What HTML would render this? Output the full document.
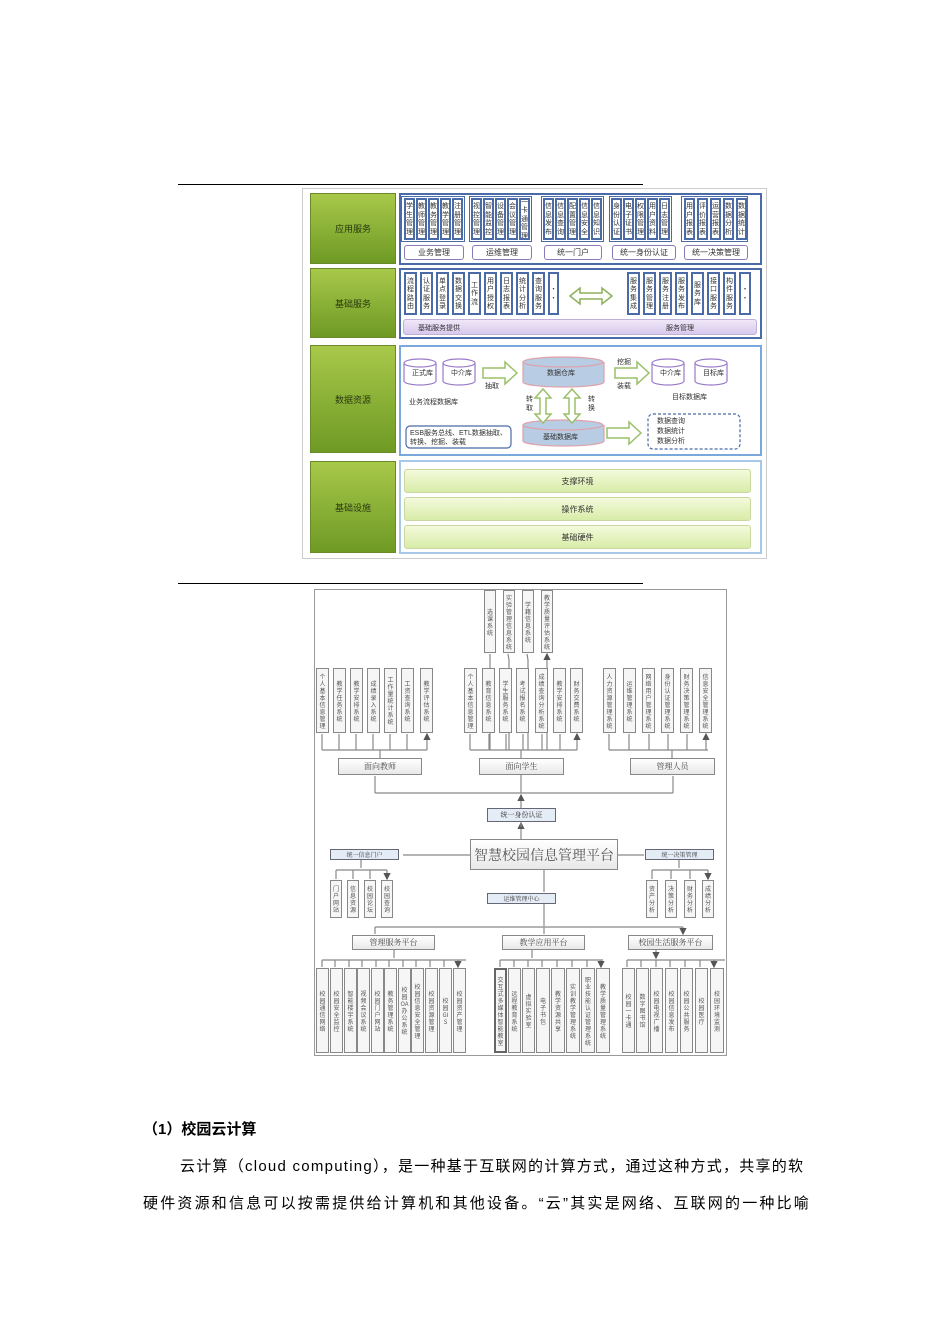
<!DOCTYPE html>
<html><head><meta charset="utf-8"><style>
body{margin:0;background:#fff;font-family:"Liberation Sans","Noto Sans CJK SC",sans-serif;}
#p{position:relative;width:950px;height:1344px;overflow:hidden;background:#fff}
.a{position:absolute;box-sizing:border-box}
.v{position:absolute;box-sizing:border-box;font-family:"Noto Sans CJK SC",sans-serif;font-size:7px;line-height:8px;word-break:break-all;color:#333;display:flex;align-items:center;justify-content:center;overflow:hidden;text-align:center;padding:0 1px}
.vb{border:2px solid #4a6aa8;background:#fff;font-size:7px;line-height:8.5px}
.vg{border:1px solid #888;background:#f6f6f6;font-size:6px;line-height:7px;color:#555}
.green{background:linear-gradient(#a8c84a,#6e9a24);border:1px solid #6a8a2a;color:#2a3a10;font-size:9px;display:flex;align-items:center;justify-content:center}
.lb{border:1px solid #8a7ab8;background:#fff;border-radius:3px;font-size:8px;display:flex;align-items:center;justify-content:center;color:#333}
.gb{border:1px solid #c8d8a0;background:linear-gradient(#f4fadc,#d8eca8);border-radius:3px;font-size:8px;display:flex;align-items:center;justify-content:center;color:#333}
.hb{border:1px solid #888;background:linear-gradient(#fff,#e8e8e8);font-size:8px;display:flex;align-items:center;justify-content:center;color:#444;font-family:"Noto Serif CJK SC",serif}
.bb{border:1px solid #667;background:#e4ecf6;font-size:7px;display:flex;align-items:center;justify-content:center;color:#333;font-family:"Noto Serif CJK SC",serif}
.t{position:absolute;font-size:15px;color:#000;white-space:nowrap}
</style></head><body><div id="p">
<div class="a" style="left:178px;top:184px;width:465px;height:1px;background:#000"></div>
<div class="a" style="left:178px;top:583px;width:465px;height:1px;background:#000"></div>
<div class="a" style="left:302px;top:188px;width:465px;height:371px;border:1px solid #ccc"></div>
<div class="a green" style="left:310px;top:193px;width:86px;height:71px">应用服务</div>
<div class="a green" style="left:310px;top:268px;width:86px;height:70px">基础服务</div>
<div class="a green" style="left:310px;top:345px;width:86px;height:108px">数据资源</div>
<div class="a green" style="left:310px;top:461px;width:86px;height:92px">基础设施</div>
<div class="a" style="left:399px;top:193px;width:363px;height:72px;border:2px solid #4a6aa8"></div>
<div class="a" style="left:399px;top:268px;width:363px;height:71px;border:2px solid #4a6aa8"></div>
<div class="a" style="left:399px;top:345px;width:363px;height:111px;border:2px solid #7aa8dc"></div>
<div class="a" style="left:399px;top:460px;width:363px;height:94px;border:2px solid #a8c8e8"></div>
<div class="a" style="left:401px;top:196px;width:64px;height:46px;border:1px solid #4a6aa8"></div>
<div class="a" style="left:469px;top:196px;width:63px;height:46px;border:1px solid #4a6aa8"></div>
<div class="a" style="left:541px;top:196px;width:63px;height:46px;border:1px solid #4a6aa8"></div>
<div class="a" style="left:609px;top:196px;width:63px;height:46px;border:1px solid #4a6aa8"></div>
<div class="a" style="left:681px;top:196px;width:67px;height:46px;border:1px solid #4a6aa8"></div>
<div class="v vb" style="left:404px;top:198px;width:11px;height:42px">学生管理</div>
<div class="v vb" style="left:416px;top:198px;width:11px;height:42px">教师管理</div>
<div class="v vb" style="left:428px;top:198px;width:11px;height:42px">教务管理</div>
<div class="v vb" style="left:440px;top:198px;width:11px;height:42px">教学管理</div>
<div class="v vb" style="left:452px;top:198px;width:11px;height:42px">注册管理</div>
<div class="v vb" style="left:471px;top:198px;width:11px;height:42px">视控管理</div>
<div class="v vb" style="left:483px;top:198px;width:11px;height:42px">智能监控</div>
<div class="v vb" style="left:495px;top:198px;width:11px;height:42px">设备管理</div>
<div class="v vb" style="left:507px;top:198px;width:11px;height:42px">会议管理</div>
<div class="v vb" style="left:519px;top:198px;width:11px;height:42px">一卡通管理</div>
<div class="v vb" style="left:543px;top:198px;width:11px;height:42px">信息发布</div>
<div class="v vb" style="left:555px;top:198px;width:11px;height:42px">信息查询</div>
<div class="v vb" style="left:567px;top:198px;width:11px;height:42px">配置管理</div>
<div class="v vb" style="left:579px;top:198px;width:11px;height:42px">信息安全</div>
<div class="v vb" style="left:591px;top:198px;width:11px;height:42px">信息知识</div>
<div class="v vb" style="left:611px;top:198px;width:11px;height:42px">身份认证</div>
<div class="v vb" style="left:623px;top:198px;width:11px;height:42px">电子证书</div>
<div class="v vb" style="left:635px;top:198px;width:11px;height:42px">权限管理</div>
<div class="v vb" style="left:647px;top:198px;width:11px;height:42px">用户资料</div>
<div class="v vb" style="left:659px;top:198px;width:11px;height:42px">日志管理</div>
<div class="v vb" style="left:684px;top:198px;width:11px;height:42px">用户报表</div>
<div class="v vb" style="left:697px;top:198px;width:11px;height:42px">评价报表</div>
<div class="v vb" style="left:710px;top:198px;width:11px;height:42px">运营报表</div>
<div class="v vb" style="left:723px;top:198px;width:11px;height:42px">数据分析</div>
<div class="v vb" style="left:736px;top:198px;width:11px;height:42px">数据统计</div>
<div class="a lb" style="left:404px;top:245px;width:60px;height:15px">业务管理</div>
<div class="a lb" style="left:472px;top:245px;width:60px;height:15px">运维管理</div>
<div class="a lb" style="left:544px;top:245px;width:58px;height:15px">统一门户</div>
<div class="a lb" style="left:612px;top:245px;width:64px;height:15px">统一身份认证</div>
<div class="a lb" style="left:684px;top:245px;width:64px;height:15px">统一决策管理</div>
<div class="v vb" style="left:404px;top:272px;width:13px;height:43px">流程路由</div>
<div class="v vb" style="left:420px;top:272px;width:13px;height:43px">认证服务</div>
<div class="v vb" style="left:436px;top:272px;width:13px;height:43px">单点登录</div>
<div class="v vb" style="left:452px;top:272px;width:13px;height:43px">数据交换</div>
<div class="v vb" style="left:468px;top:272px;width:13px;height:43px">工作流</div>
<div class="v vb" style="left:484px;top:272px;width:13px;height:43px">用户授权</div>
<div class="v vb" style="left:500px;top:272px;width:13px;height:43px">日志报表</div>
<div class="v vb" style="left:516px;top:272px;width:13px;height:43px">统计分析</div>
<div class="v vb" style="left:532px;top:272px;width:13px;height:43px">查询服务</div>
<div class="v vb" style="left:548px;top:272px;width:11px;height:43px">··</div>
<div class="v vb" style="left:627px;top:272px;width:13px;height:43px">服务集成</div>
<div class="v vb" style="left:643px;top:272px;width:13px;height:43px">服务管理</div>
<div class="v vb" style="left:659px;top:272px;width:13px;height:43px">服务注册</div>
<div class="v vb" style="left:675px;top:272px;width:13px;height:43px">服务发布</div>
<div class="v vb" style="left:691px;top:272px;width:13px;height:43px">服务库</div>
<div class="v vb" style="left:707px;top:272px;width:13px;height:43px">接口服务</div>
<div class="v vb" style="left:723px;top:272px;width:13px;height:43px">构件服务</div>
<div class="v vb" style="left:739px;top:272px;width:12px;height:43px">··</div>
<div class="a" style="left:403px;top:319px;width:354px;height:16px;background:linear-gradient(#f0e8f8,#d8c8ec);border:1px solid #c0b0dc;border-radius:3px;font-size:7px;color:#333"><span style="position:absolute;left:14px;top:3px">基础服务提供</span><span style="position:absolute;left:262px;top:3px">服务管理</span></div>
<svg class="a" style="left:0;top:0" width="950" height="1344">
<path d="M570 296 l10 -8 v5 h22 v-5 l10 8 l-10 8 v-5 h-22 v5z" fill="#fff" stroke="#8ab05a" stroke-width="1.5"/>
<g fill="#fff" stroke="#9a7ac8" stroke-width="1.2">
<path d="M404 363 v18 a16 4 0 0 0 32 0 v-18"/><ellipse cx="420" cy="363" rx="16" ry="4"/>
<path d="M443 363 v18 a16 4 0 0 0 32 0 v-18"/><ellipse cx="459" cy="363" rx="16" ry="4"/>
<path d="M652 363 v18 a16 4 0 0 0 32 0 v-18"/><ellipse cx="668" cy="363" rx="16" ry="4"/>
<path d="M695 363 v18 a16 4 0 0 0 32 0 v-18"/><ellipse cx="711" cy="363" rx="16" ry="4"/>
</g>
<g fill="#b8cce4" stroke="#e0a0a8" stroke-width="1.2">
<path d="M523 362 v20 a40 5 0 0 0 81 0 v-20"/><ellipse cx="563" cy="362" rx="40" ry="5"/>
<path d="M523 425 v16 a40 5 0 0 0 81 0 v-16"/><ellipse cx="563" cy="425" rx="40" ry="5"/>
</g>
<g fill="#fff" stroke="#9ac06a" stroke-width="1.5">
<path d="M483 368 h22 v-6 l12 11 l-12 11 v-6 h-22z"/>
<path d="M615 368 h22 v-6 l12 11 l-12 11 v-6 h-22z"/>
<path d="M607 428 h22 v-6 l12 11 l-12 11 v-6 h-22z"/>
<path d="M543 389 l-8 9 h5 v16 h-5 l8 9 l8 -9 h-5 v-16 h5z"/>
<path d="M572 389 l-8 9 h5 v16 h-5 l8 9 l8 -9 h-5 v-16 h5z"/>
</g>
<rect x="406" y="426" width="105" height="22" rx="4" fill="#fff" stroke="#4a6aa8" stroke-width="1.2"/>
<rect x="648" y="414" width="92" height="35" rx="5" fill="none" stroke="#4a6aa8" stroke-width="1.2" stroke-dasharray="3,2"/>
<g font-size="7" fill="#333" font-family="Liberation Sans,Noto Sans CJK SC,sans-serif">
<text x="412" y="375">正式库</text><text x="451" y="375">中介库</text><text x="660" y="375">中介库</text><text x="703" y="375">目标库</text>
<text x="547" y="375">数据仓库</text><text x="543" y="439">基础数据库</text>
<text x="485" y="388">抽取</text><text x="617" y="364">挖掘</text><text x="617" y="388">装载</text>
<text x="409" y="404">业务流程数据库</text><text x="672" y="399">目标数据库</text>
<text x="526" y="401">转</text><text x="526" y="410">取</text><text x="588" y="401">转</text><text x="588" y="410">换</text>
<text x="410" y="435">ESB服务总线、ETL数据抽取、</text><text x="410" y="444">转换、挖掘、装载</text>
<text x="657" y="423">数据查询</text><text x="657" y="433">数据统计</text><text x="657" y="443">数据分析</text>
</g>
</svg>
<div class="a gb" style="left:404px;top:469px;width:347px;height:24px">支撑环境</div>
<div class="a gb" style="left:404px;top:497px;width:347px;height:24px">操作系统</div>
<div class="a gb" style="left:404px;top:525px;width:347px;height:24px">基础硬件</div>

<div class="a" style="left:314px;top:589px;width:413px;height:467px;border:1px solid #999"></div>
<svg class="a" style="left:0;top:0" width="950" height="1344">
<defs><marker id="m" markerWidth="6" markerHeight="6" refX="5" refY="3" orient="auto"><path d="M0 0L6 3L0 6z" fill="#555"/></marker></defs>
<g stroke="#888" stroke-width="1.2" fill="none">
<path d="M322 750 H427 M470 750 H577 M609 750 H708"/>
<g marker-end="url(#m)">
<path d="M322 750V734 M339 750V734 M356 750V734 M373 750V734 M390 750V734 M407 750V734 M427 750V734"/>
<path d="M470 750V734 M489 750V734 M506 750V734 M523 750V734 M542 750V734 M560 750V734 M577 750V734"/>
<path d="M609 750V734 M629 750V734 M649 750V734 M668 750V734 M687 750V734 M706 750V734"/>
<path d="M490 750V654 M509 750V660 L508 654 M528 750V660 L527 654 M547 750V654"/>
<path d="M375 793V776 M673 793V776 M521 808V795"/>
<path d="M470 855H403 M618 855H644 M544 870V892 M544 904V926 M521 839V823"/>
<path d="M375 927V934 M544 927V934 M683 927V934"/>
<path d="M361 859V868 M336 870V879 M353 870V879 M370 870V879 M387 870V879"/>
<path d="M679 859V868 M652 870V879 M671 870V879 M690 870V879 M708 870V879"/>
<path d="M394 950V958 M532 950V958 M656 950V958"/>
<path d="M322 960V967 M335 960V967 M349 960V967 M362 960V967 M376 960V967 M389 960V967 M403 960V967 M416 960V967 M430 960V967 M444 960V967 M458 960V967"/>
<path d="M500 960V967 M514 960V967 M528 960V967 M542 960V967 M557 960V967 M572 960V967 M587 960V967 M601 960V967"/>
<path d="M627 960V967 M641 960V967 M656 960V967 M670 960V967 M685 960V967 M700 960V967 M714 960V967"/>
</g>
<path d="M380 750V758 M521 750V758 M672 750V758"/>
<path d="M375 793 H673 M521 775V793 M521 822V827"/>
<path d="M375 927H683 M336 870H387 M652 870H708"/>
<path d="M322 960H466 M500 960H603 M627 960H725"/>
</g>
</svg>
<div class="v vg" style="left:484px;top:590px;width:12px;height:63px">选课系统</div>
<div class="v vg" style="left:503px;top:590px;width:12px;height:63px">实验管理信息系统</div>
<div class="v vg" style="left:522px;top:590px;width:12px;height:63px">学籍信息系统</div>
<div class="v vg" style="left:541px;top:590px;width:12px;height:63px">教学质量评估系统</div>
<div class="v vg" style="left:316px;top:668px;width:13px;height:65px">个人基本信息管理</div>
<div class="v vg" style="left:333px;top:668px;width:13px;height:65px">教学任务系统</div>
<div class="v vg" style="left:350px;top:668px;width:13px;height:65px">教学安排系统</div>
<div class="v vg" style="left:367px;top:668px;width:13px;height:65px">成绩录入系统</div>
<div class="v vg" style="left:384px;top:668px;width:13px;height:65px">工作量统计系统</div>
<div class="v vg" style="left:401px;top:668px;width:13px;height:65px">工资查询系统</div>
<div class="v vg" style="left:420px;top:668px;width:13px;height:65px">教学评估系统</div>
<div class="v vg" style="left:464px;top:668px;width:13px;height:65px">个人基本信息管理</div>
<div class="v vg" style="left:482px;top:668px;width:13px;height:65px">教育信息系统</div>
<div class="v vg" style="left:499px;top:668px;width:13px;height:65px">学生服务系统</div>
<div class="v vg" style="left:516px;top:668px;width:13px;height:65px">考试报名系统</div>
<div class="v vg" style="left:535px;top:668px;width:13px;height:65px">成绩查询分析系统</div>
<div class="v vg" style="left:553px;top:668px;width:13px;height:65px">教学安排系统</div>
<div class="v vg" style="left:570px;top:668px;width:13px;height:65px">财务交费系统</div>
<div class="v vg" style="left:603px;top:668px;width:13px;height:65px">人力资源管理系统</div>
<div class="v vg" style="left:623px;top:668px;width:13px;height:65px">运维管理系统</div>
<div class="v vg" style="left:642px;top:668px;width:13px;height:65px">网络用户管理系统</div>
<div class="v vg" style="left:661px;top:668px;width:13px;height:65px">身份认证管理系统</div>
<div class="v vg" style="left:680px;top:668px;width:13px;height:65px">财务决策管理系统</div>
<div class="v vg" style="left:699px;top:668px;width:13px;height:65px">信息安全管理系统</div>
<div class="a hb" style="left:338px;top:758px;width:84px;height:17px">面向教师</div>
<div class="a hb" style="left:479px;top:758px;width:85px;height:17px">面向学生</div>
<div class="a hb" style="left:630px;top:758px;width:85px;height:17px">管理人员</div>
<div class="a bb" style="left:487px;top:808px;width:69px;height:14px">统一身份认证</div>
<div class="a hb" style="left:470px;top:839px;width:148px;height:31px;font-size:14px;color:#555">智慧校园信息管理平台</div>
<div class="a bb" style="left:330px;top:849px;width:69px;height:11px;font-size:6px">统一信息门户</div>
<div class="a bb" style="left:645px;top:849px;width:69px;height:11px;font-size:6px">统一决策管理</div>
<div class="v vg" style="left:330px;top:880px;width:12px;height:38px">门户网站</div>
<div class="v vg" style="left:347px;top:880px;width:12px;height:38px">信息资源</div>
<div class="v vg" style="left:364px;top:880px;width:12px;height:38px">校园论坛</div>
<div class="v vg" style="left:381px;top:880px;width:12px;height:38px">校园查询</div>
<div class="v vg" style="left:646px;top:880px;width:12px;height:38px">资产分析</div>
<div class="v vg" style="left:665px;top:880px;width:12px;height:38px">决策分析</div>
<div class="v vg" style="left:684px;top:880px;width:12px;height:38px">财务分析</div>
<div class="v vg" style="left:702px;top:880px;width:12px;height:38px">成绩分析</div>
<div class="a bb" style="left:487px;top:893px;width:69px;height:11px;font-size:6px">运维管理中心</div>
<div class="a hb" style="left:352px;top:935px;width:83px;height:15px">管理服务平台</div>
<div class="a hb" style="left:502px;top:935px;width:83px;height:15px">教学应用平台</div>
<div class="a hb" style="left:628px;top:935px;width:85px;height:15px">校园生活服务平台</div>
<div class="v vg" style="left:316px;top:968px;width:13px;height:85px">校园通信网络</div>
<div class="v vg" style="left:330px;top:968px;width:13px;height:85px">校园安全监控</div>
<div class="v vg" style="left:344px;top:968px;width:13px;height:85px">智能楼宇系统</div>
<div class="v vg" style="left:357px;top:968px;width:13px;height:85px">视频会议系统</div>
<div class="v vg" style="left:371px;top:968px;width:13px;height:85px">校园门户网站</div>
<div class="v vg" style="left:384px;top:968px;width:13px;height:85px">教务管理系统</div>
<div class="v vg" style="left:398px;top:968px;width:13px;height:85px">校园OA办公系统</div>
<div class="v vg" style="left:411px;top:968px;width:13px;height:85px">校园信息安全管理</div>
<div class="v vg" style="left:425px;top:968px;width:13px;height:85px">校园资源管理</div>
<div class="v vg" style="left:439px;top:968px;width:13px;height:85px">校园GIS</div>
<div class="v vg" style="left:453px;top:968px;width:13px;height:85px">校园资产管理</div>
<div class="v vg" style="left:494px;top:968px;width:13px;height:85px;border:2px solid #666">交互式多媒体智能教室</div>
<div class="v vg" style="left:508px;top:968px;width:13px;height:85px">远程教育系统</div>
<div class="v vg" style="left:522px;top:968px;width:13px;height:85px">虚拟实验室</div>
<div class="v vg" style="left:536px;top:968px;width:14px;height:85px">电子书包</div>
<div class="v vg" style="left:551px;top:968px;width:14px;height:85px">教学资源共享</div>
<div class="v vg" style="left:566px;top:968px;width:14px;height:85px">实训教学管理系统</div>
<div class="v vg" style="left:581px;top:968px;width:14px;height:85px">职业技能认证管理系统</div>
<div class="v vg" style="left:596px;top:968px;width:14px;height:85px">教学质量管理系统</div>
<div class="v vg" style="left:622px;top:968px;width:13px;height:85px">校园一卡通</div>
<div class="v vg" style="left:636px;top:968px;width:13px;height:85px">数字图书馆</div>
<div class="v vg" style="left:650px;top:968px;width:13px;height:85px">校园电视广播</div>
<div class="v vg" style="left:665px;top:968px;width:13px;height:85px">校园信息发布</div>
<div class="v vg" style="left:680px;top:968px;width:13px;height:85px">校园公共服务</div>
<div class="v vg" style="left:695px;top:968px;width:13px;height:85px">校园医疗</div>
<div class="v vg" style="left:710px;top:968px;width:14px;height:85px">校园环境监测</div>

<div class="t" style="left:143px;top:1118px;font-weight:bold">（1）校园云计算</div>
<div class="t" style="left:180px;top:1155px;letter-spacing:1.25px">云计算（cloud computing），是一种基于互联网的计算方式，通过这种方式，共享的软</div>
<div class="t" style="left:143px;top:1192px;letter-spacing:2.2px">硬件资源和信息可以按需提供给计算机和其他设备。“云”其实是网络、互联网的一种比喻</div>
</div></body></html>
